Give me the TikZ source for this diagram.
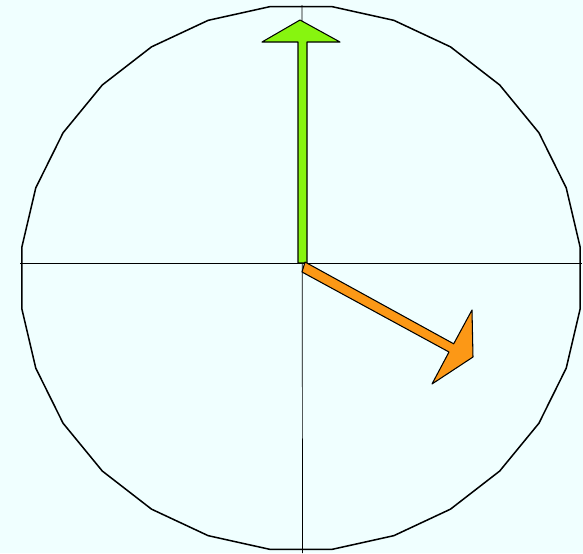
\documentclass[tikz,border=0pt]{standalone}
\usepackage{tikz}

\definecolor{bgcyan}{RGB}{240,255,255}
\definecolor{needlegreen}{RGB}{135,245,15}
\definecolor{needleorange}{RGB}{252,152,22}

\begin{document}
\begin{tikzpicture}[x=0.03cm, y=-0.03cm,
  dial/.style={draw=black, line width=1.3pt, line join=round},
  axis/.style={draw=black, line width=0.6pt},
  needle/.style={draw=black, line width=0.9pt, line join=round}]
% Background and frame
\fill[bgcyan] (0,0) rectangle (583,553);
\useasboundingbox (0,0) rectangle (583,553);

% Centre of the axes
\coordinate (O) at (302,263);
\coordinate (top) at (302,5);
\coordinate (bottom) at (302.5,553);
\coordinate (left) at (20,263);
\coordinate (right) at (582,263);

% Dial (polygonal circle)
\draw[dial] plot[samples=29, domain=6.43:366.43] ({301+281*cos(\x)},{278+273*sin(\x)}) -- cycle;

% Axes
\draw[axis] (left) -- (right);
\draw[axis] (top) -- (bottom);

% Green needle (pointing up)
\filldraw[needle, fill=needlegreen] (298,263) -- (307,263) -- (307,42) -- (340,42) -- (300,20) -- (262,42) -- (298,42) -- cycle;

% Orange needle (pointing down-right)
\filldraw[needle, fill=needleorange] (305,262) -- (453.7,343.8) -- (472,310) -- (473,357) -- (432,384) -- (449,352) -- (302,272) -- cycle;
\end{tikzpicture}
\end{document}
